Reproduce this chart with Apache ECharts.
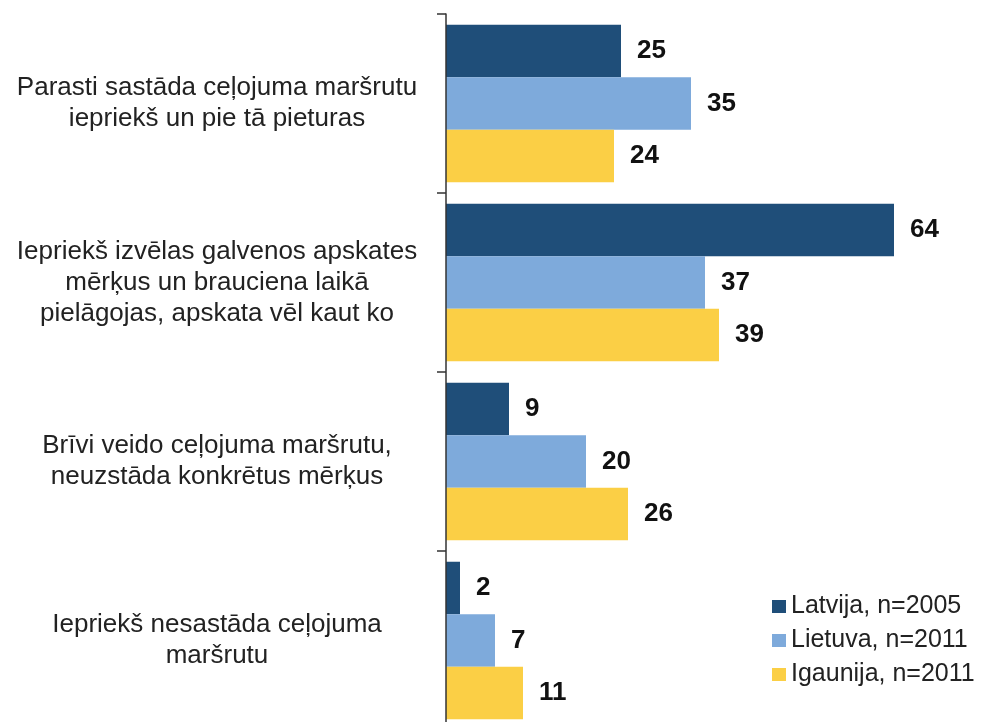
<!DOCTYPE html>
<html>
<head>
<meta charset="utf-8">
<script src="https://cdn.jsdelivr.net/npm/echarts@6/dist/echarts.min.js"></script>
<style>
  html, body { margin: 0; padding: 0; background: #fff; }
  #chart { width: 985px; height: 722px; }
</style>
</head>
<body>
<div id="chart"></div>
<script>
var categories = [
    'Parasti sastāda ceļojuma maršrutu\niepriekš un pie tā pieturas',
    'Iepriekš izvēlas galvenos apskates\nmērķus un brauciena laikā\npielāgojas, apskata vēl kaut ko',
    'Brīvi veido ceļojuma maršrutu,\nneuzstāda konkrētus mērķus',
    'Iepriekš nesastāda ceļojuma\nmaršrutu'
];
var seriesNames = ['Latvija, n=2005', 'Lietuva, n=2011', 'Igaunija, n=2011'];
var latvija = [25, 64, 9, 2];
var lietuva = [35, 37, 20, 7];
var igaunija = [24, 39, 26, 11];
var colors = ['#1f4e79', '#7eaadb', '#fbcf45'];

(function () {
    var myChart = echarts.init(document.querySelector('#chart'));
    var values = [latvija, lietuva, igaunija];
    var series = values.map(function (arr, i) {
        return {
            name: seriesNames[i],
            type: 'bar',
            data: arr,
            barGap: 0,
            barCategoryGap: '12%',
            itemStyle: { color: colors[i] },
            label: {
                show: true,
                position: 'right',
                distance: 16,
                color: '#111',
                fontFamily: 'Liberation Sans',
                fontWeight: 'bold',
                fontSize: 26
            }
        };
    });
    myChart.setOption({
        animation: false,
        color: colors,
        grid: {
            left: 446,
            top: 14,
            width: 490,
            height: 716,
            containLabel: false,
            outerBoundsMode: 'none'
        },
        legend: {
            orient: 'vertical',
            left: 767,
            top: 589,
            itemWidth: 14,
            itemHeight: 13,
            itemGap: 9,
            icon: 'rect',
            textStyle: {
                fontFamily: 'Liberation Sans',
                fontSize: 25,
                color: '#222'
            },
            data: seriesNames
        },
        xAxis: {
            type: 'value',
            min: 0,
            max: 70,
            show: false
        },
        yAxis: {
            type: 'category',
            inverse: true,
            z: 5,
            data: categories,
            axisLine: { show: true, lineStyle: { color: '#333', width: 1.5 } },
            axisTick: { show: true, length: 9, lineStyle: { color: '#333', width: 1.5 } },
            axisLabel: {
                align: 'center',
                margin: 229,
                fontFamily: 'Liberation Sans',
                fontSize: 26,
                lineHeight: 31,
                color: '#222'
            }
        },
        series: series
    });
})();
</script>
</body>
</html>
